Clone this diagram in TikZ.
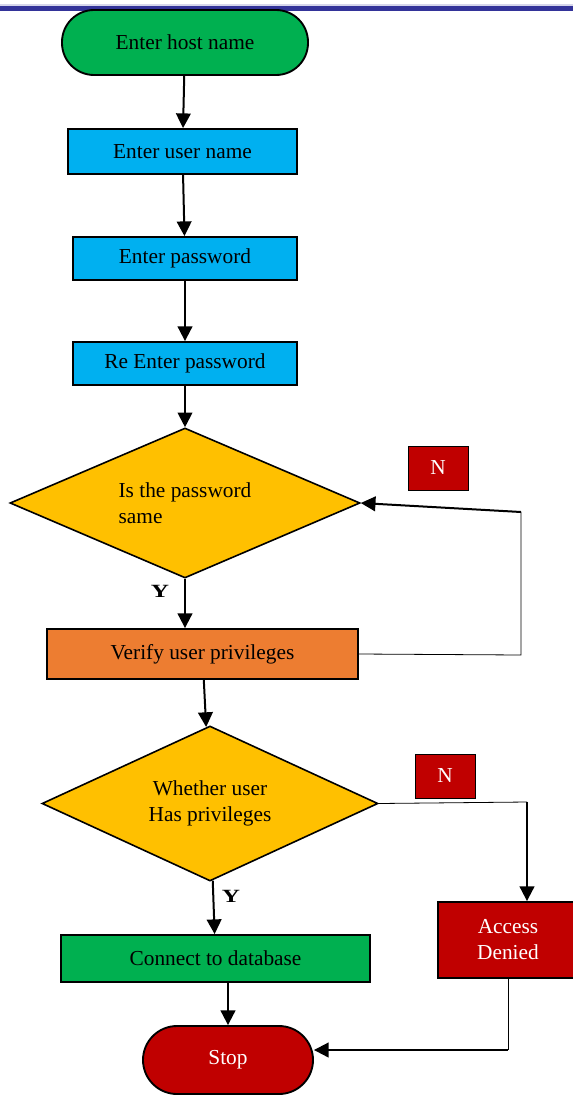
\documentclass[tikz,border=0pt]{standalone}
\usepackage{fontspec}
\setmainfont{Liberation Serif}
\usetikzlibrary{arrows.meta}
\usetikzlibrary{shapes.geometric}

\definecolor{okgreen}{HTML}{00B050}
\definecolor{skyblue}{HTML}{00B0F0}
\definecolor{gold}{HTML}{FFC000}
\definecolor{tangerine}{HTML}{ED7D31}
\definecolor{darkred}{HTML}{C00000}
\definecolor{navy}{HTML}{333399}

\begin{document}
\begin{tikzpicture}[x=0.75pt,y=-0.75pt,
    font=\fontsize{16}{19.5}\selectfont,
    term/.style = {draw, line width=1.4pt, inner sep=0pt},
    box/.style = {draw, line width=1.4pt, inner sep=0pt},
    dec/.style = {diamond, draw, line width=1.2pt, fill=gold, inner sep=0pt},
    tag/.style = {draw, line width=0.5pt, fill=darkred, text=white, inner sep=0pt,
                  minimum width=45pt, minimum height=33pt},
    yes/.style = {font=\bfseries\fontsize{14}{16}\selectfont, xscale=1.35, transform shape},
    flow/.style = {line width=1.5pt, -{Triangle[length=11pt,width=11pt]}},
    back/.style = {line width=0.6pt}]
				\useasboundingbox (0,0) rectangle (573,1095);
				\clip (0,0) rectangle (573,1095);
				\fill[navy!20] (0,4) rectangle (573,6.5);
				\fill[navy] (0,6.5) rectangle (573,11);
				\begin{scope}
					\node[term, fill=okgreen, rounded corners=24pt, minimum width=184.5pt, minimum height=48.75pt] (host) at (185,42.5) {Enter host name};
					\node[box, fill=skyblue, minimum width=171.75pt, minimum height=33.75pt] (user) at (182.5,151.5) {Enter user name};
					\node[box, fill=skyblue, minimum width=168pt, minimum height=32.25pt] (pass) at (185,258.5) {Enter password};
					\node[box, fill=skyblue, minimum width=168pt, minimum height=32.25pt] (repass) at (185,363.5) {Re Enter password};
					\node[dec, aspect=2.33, minimum width=262.5pt, minimum height=112.5pt, align=left] (same) at (185,503) {Is the password\\ same};
					\node[box, fill=tangerine, minimum width=233.25pt, minimum height=37.5pt] (verify) at (202.5,654) {Verify user privileges};
					\node[dec, aspect=2.17, minimum width=252pt, minimum height=116.25pt, align=center] (priv) at (210,803.5) {Whether user\\ Has privileges};
					\node[box, fill=okgreen, minimum width=231.75pt, minimum height=35.25pt] (connect) at (215.5,958.5) {Connect to database};
					\node[box, fill=darkred, text=white, minimum width=105pt, minimum height=57pt, align=center] (denied) at (508,940) {Access\\ Denied};
					\node[term, fill=darkred, text=white, rounded corners=25.5pt, minimum width=127.5pt, minimum height=51pt] (stop) at (228,1060) {Stop};
				\end{scope}
				\node[tag] (no1) at (438,468) {N};
				\node[tag] (no2) at (445,776) {N};
				\node[yes] (yes1) at (160,591) {Y};
				\node[yes] (yes2) at (231,896) {Y};
				\coordinate (lb) at (521,655);
				\coordinate (lt) at (521,512);
				\coordinate (nr) at (527,802);
				\coordinate (dl) at (508,1050);
				\draw [flow] (host) -- (user);
				\draw [flow] (user) -- (pass);
				\draw [flow] (pass) -- (repass);
				\draw [flow] (repass) -- (same);
				\draw [flow] (same.south) -- (verify.north -| same.south);
				\draw [flow] (verify) -- (priv);
				\draw [flow] (priv) -- (connect);
				\draw [flow] (stop.north |- connect.south) -- (stop.north);
				\draw [back] (verify.east) -- (lb) -- (lt);
				\draw [flow] (lt) -- (same.east);
				\draw [back] (priv.east) -- (nr);
				\draw [flow] (nr) -- (nr |- denied.north);
				\draw [back] (denied.south) -- (dl);
				\draw [flow] (dl) -- (stop.east |- dl);
			\end{tikzpicture}
\end{document}
